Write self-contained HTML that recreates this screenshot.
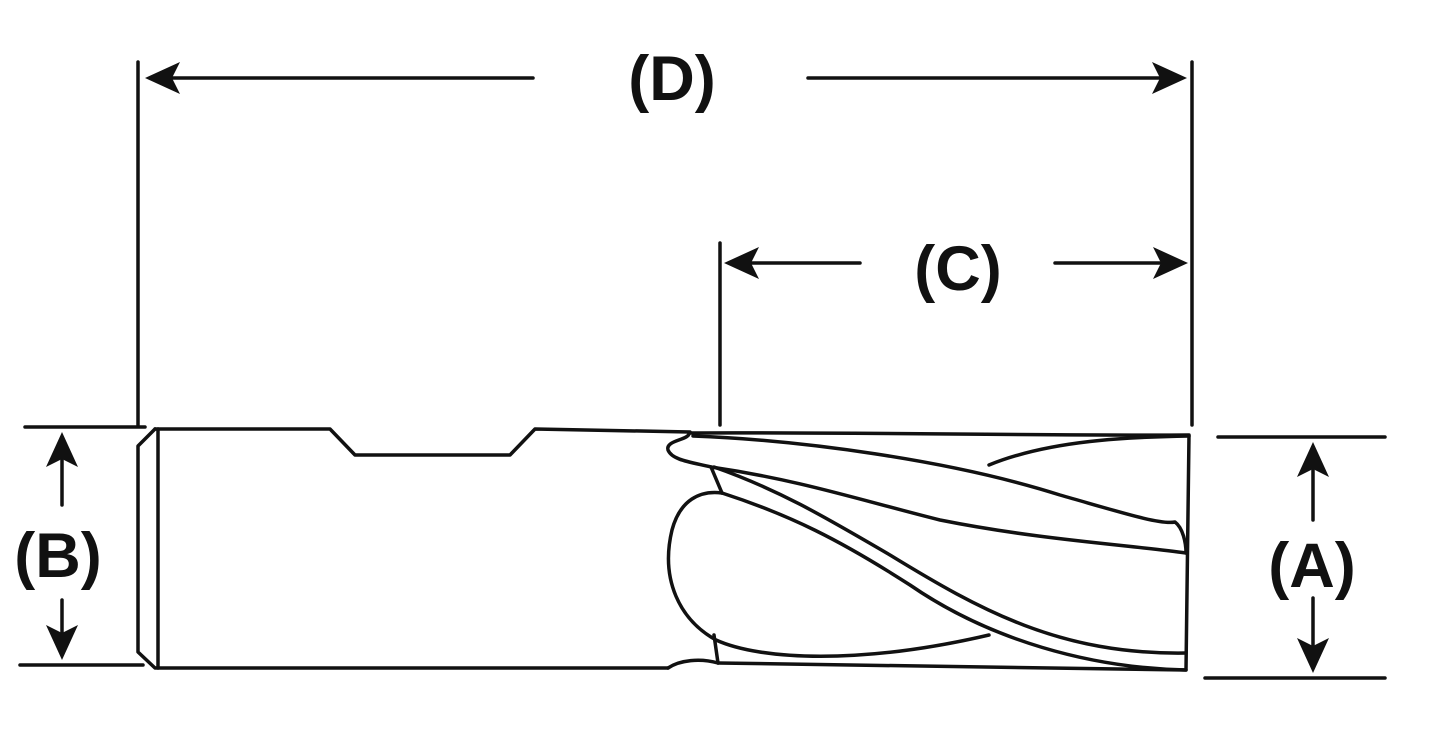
<!DOCTYPE html>
<html><head><style>
html,body{margin:0;padding:0;background:#fff;}
svg{display:block;}
text{font-family:"Liberation Sans",sans-serif;font-weight:bold;font-size:63px;fill:#111;}
</style></head><body>
<svg width="1433" height="731" viewBox="0 0 1433 731" xmlns="http://www.w3.org/2000/svg">
<g stroke="#111" stroke-width="3.5" fill="none" stroke-linecap="round" stroke-linejoin="round">
<!-- D -->
<line x1="138" y1="62" x2="138" y2="425"/>
<line x1="1192" y1="62" x2="1192" y2="425"/>
<line x1="170" y1="78" x2="533" y2="78"/>
<line x1="808" y1="78" x2="1160" y2="78"/>
<!-- C -->
<line x1="720" y1="243" x2="720" y2="425"/>
<line x1="750" y1="263" x2="860" y2="263"/>
<line x1="1055" y1="263" x2="1160" y2="263"/>
<!-- B -->
<line x1="25" y1="427" x2="145" y2="427"/>
<line x1="20" y1="665" x2="143" y2="665"/>
<line x1="62" y1="460" x2="62" y2="505"/>
<line x1="62" y1="600" x2="62" y2="635"/>
<!-- A -->
<line x1="1218" y1="437" x2="1385" y2="437"/>
<line x1="1205" y1="678" x2="1385" y2="678"/>
<line x1="1313" y1="470" x2="1313" y2="520"/>
<line x1="1313" y1="598" x2="1313" y2="645"/>
<!-- shank -->
<path d="M155,429 L330,429 L355,455 L510,455 L535,429 L690,432"/>
<path d="M155,429 L138,446 L138,652 L155,668 L668,668"/>
<line x1="158" y1="429" x2="158" y2="668"/>
<!-- flute head -->
<path d="M689,433 C690,440 665,440 668,450 C672,460 690,462 711,467 L722,493"/>
<path d="M689,433 C850,432 1050,436 1189,435 L1186,670 L718,663"/>
<path d="M693,436 C800,440 950,460 1060,495 C1120,512 1160,525 1175,522 C1183,528 1186,543 1186,553"/>
<path d="M711,467 C800,480 860,500 940,520 C1040,540 1130,545 1186,553"/>
<path d="M989,465 C1050,440 1130,437 1189,436"/>
<path d="M714,467 C780,490 830,520 890,555 C980,610 1060,655 1186,653"/>
<path d="M722,493 C790,515 840,540 910,585 C990,640 1090,668 1186,670"/>
<path d="M722,493 C700,490 680,500 672,530 C660,580 680,620 716,640 C760,660 860,665 989,635"/>
<line x1="714" y1="635" x2="718" y2="663"/>
<path d="M668,668 C680,660 700,658 718,663"/>
</g>
<g fill="#111">
<polygon points="145,78 180,62 172,78 180,94"/>
<polygon points="1187,78 1152,62 1160,78 1152,94"/>
<polygon points="724,263 759,247 751,263 759,279"/>
<polygon points="1188,263 1153,247 1161,263 1153,279"/>
<polygon points="62,432 46,467 62,459 78,467"/>
<polygon points="62,660 46,625 62,633 78,625"/>
<polygon points="1313,442 1297,477 1313,469 1329,477"/>
<polygon points="1313,673 1297,638 1313,646 1329,638"/>
</g>
<text x="672" y="100" text-anchor="middle">(D)</text>
<text x="958" y="290" text-anchor="middle">(C)</text>
<text x="58" y="577" text-anchor="middle">(B)</text>
<text x="1312" y="587" text-anchor="middle">(A)</text>
</svg>
</body></html>
